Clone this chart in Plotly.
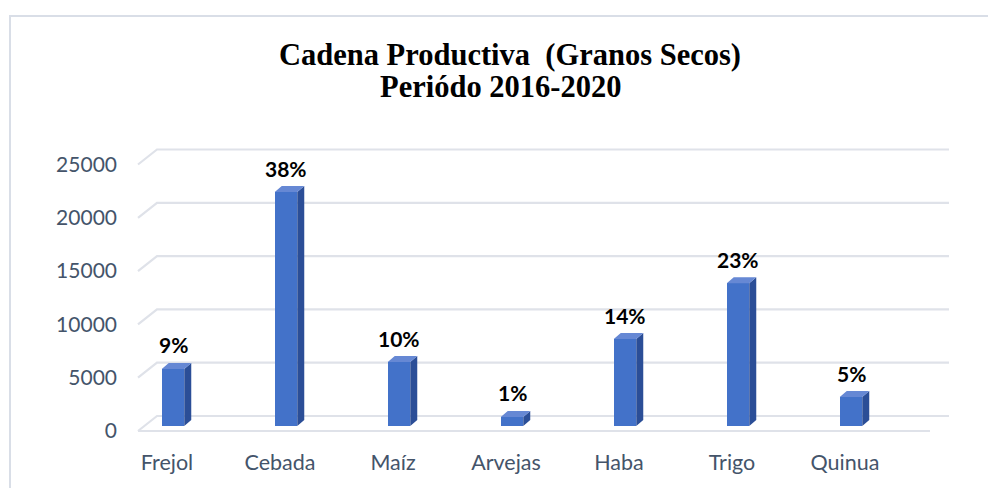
import plotly.graph_objects as go

# ---------------- data ----------------
CATEGORIAS = ["Frejol", "Cebada", "Maíz", "Arvejas", "Haba", "Trigo", "Quinua"]
PRODUCCION = [5350, 21950, 6000, 850, 8160, 13400, 2720]
PORCENTAJES = ["9%", "38%", "10%", "1%", "14%", "23%", "5%"]
EJE_Y = [0, 5000, 10000, 15000, 20000, 25000]
TITULO_1 = "Cadena Productiva  (Granos Secos)"
TITULO_2 = "Periódo 2016-2020"

# ---------------- geometry (pixels, in page coordinates) ----------------
PAGE_W, PAGE_H = 996, 488
OFF = 8                                # default page margin of the html body
W, H = PAGE_W - OFF, PAGE_H - OFF
L, R, T, B = 130, 960, 130, 440        # plot area in page px
PX_CAT = 113.0                         # px per category
CAT0_PX = 167.0                        # px of first category label
UNIT_PX = 0.01066                      # px per value unit
BASE_PX = 426.0                        # px of bar baseline

x_lo = -(CAT0_PX - L) / PX_CAT
x_hi = x_lo + (R - L) / PX_CAT
y_lo = -(B - BASE_PX) / UNIT_PX
y_hi = (BASE_PX - T) / UNIT_PX


def dx(px):
    return px / PX_CAT


def dy(px):
    return px / UNIT_PX


def xp(px):
    return (px - CAT0_PX) / PX_CAT


def paper_x(px):
    return (px - L) / (R - L)


def paper_y(py):
    return (B - py) / (B - T)


BAR_SHIFT = dx(6)
BAR_W = dx(22.5)
SIDE = dx(7)
LIFT = dy(6)
FRONT = -dy(5)
BACK = dy(10)

FRONT_COLOR = "#4372c9"
SIDE_COLOR = "#2b4e97"
TOP_COLOR = "#6688d4"
GRID_COLOR = "#dfe2e9"
TEXT_COLOR = "#44546A"

fig = go.Figure()

# front faces
xs = list(range(len(CATEGORIAS)))
fig.add_trace(go.Bar(x=xs, y=PRODUCCION, width=BAR_W,
                     offset=BAR_SHIFT - BAR_W / 2,
                     marker=dict(color=FRONT_COLOR, line=dict(width=0)),
                     hovertext=CATEGORIAS, showlegend=False))

# side and top faces
sx, sy, tx, ty = [], [], [], []
for i, v in zip(xs, PRODUCCION):
    xl = i + BAR_SHIFT - BAR_W / 2
    xr = i + BAR_SHIFT + BAR_W / 2
    sx += [xr, xr + SIDE, xr + SIDE, xr, xr, None]
    sy += [0, LIFT, v + LIFT, v, 0, None]
    tx += [xl, xl + SIDE, xr + SIDE, xr, xl, None]
    ty += [v, v + LIFT, v + LIFT, v, v, None]
fig.add_trace(go.Scatter(x=sx, y=sy, mode="lines", fill="toself",
                         fillcolor=SIDE_COLOR, line=dict(width=0, color=SIDE_COLOR),
                         hoverinfo="skip", showlegend=False))
fig.add_trace(go.Scatter(x=tx, y=ty, mode="lines", fill="toself",
                         fillcolor=TOP_COLOR, line=dict(width=0, color=TOP_COLOR),
                         hoverinfo="skip", showlegend=False))

# perspective gridlines / floor (below the bars)
shapes = []
for v in EJE_Y:
    path = "M {} {} L {} {} L {} {}".format(xp(138), v + FRONT, xp(157), v + BACK, xp(949), v + BACK)
    shapes.append(dict(type="path", path=path, xref="x", yref="y", layer="below",
                       line=dict(color=GRID_COLOR, width=2.2)))
shapes.append(dict(type="line", xref="x", yref="y", layer="below",
                   x0=xp(138), x1=xp(930), y0=FRONT, y1=FRONT,
                   line=dict(color=GRID_COLOR, width=2.2)))
# outer frame
shapes.append(dict(type="rect", xref="paper", yref="paper",
                   x0=paper_x(10), x1=paper_x(1010), y0=paper_y(500), y1=paper_y(16),
                   line=dict(color="#d9dee7", width=2), fillcolor="rgba(0,0,0,0)", layer="below"))

annotations = []
for i, v, p in zip(xs, PRODUCCION, PORCENTAJES):
    annotations.append(dict(x=i + BAR_SHIFT, y=v, xref="x", yref="y", text=p,
                            showarrow=False, yshift=24, yanchor="middle",
                            font=dict(family="Lato", size=21, color="black", weight="bold")))

annotations.append(dict(x=paper_x(510), y=paper_y(55), xref="paper", yref="paper",
                        text=TITULO_1, showarrow=False, xanchor="center", yanchor="middle",
                        font=dict(family="Liberation Serif", size=30.5, color="black", weight="bold")))
annotations.append(dict(x=paper_x(500), y=paper_y(87), xref="paper", yref="paper",
                        text=TITULO_2, showarrow=False, xanchor="center", yanchor="middle",
                        font=dict(family="Liberation Serif", size=30.5, color="black", weight="bold")))

fig.update_layout(
    width=W, height=H, autosize=False,
    margin=dict(l=L - OFF, r=PAGE_W - R, t=T - OFF, b=PAGE_H - B, pad=0),
    paper_bgcolor="white", plot_bgcolor="white",
    showlegend=False, bargap=0,
    annotations=annotations,
    shapes=shapes,
    xaxis=dict(range=[x_lo, x_hi], tickvals=xs, ticktext=CATEGORIAS,
               showgrid=False, zeroline=False, showline=False, ticks="",
               ticklabelstandoff=7,
               tickfont=dict(family="Lato", size=21.5, color=TEXT_COLOR)),
    yaxis=dict(range=[y_lo, y_hi], tickvals=[v + FRONT for v in EJE_Y],
               ticktext=[str(v) for v in EJE_Y],
               showgrid=False, zeroline=False, showline=False, ticks="",
               ticklabelstandoff=12,
               tickfont=dict(family="Lato", size=21, color=TEXT_COLOR)),
)

fig.write_html("out.html")
